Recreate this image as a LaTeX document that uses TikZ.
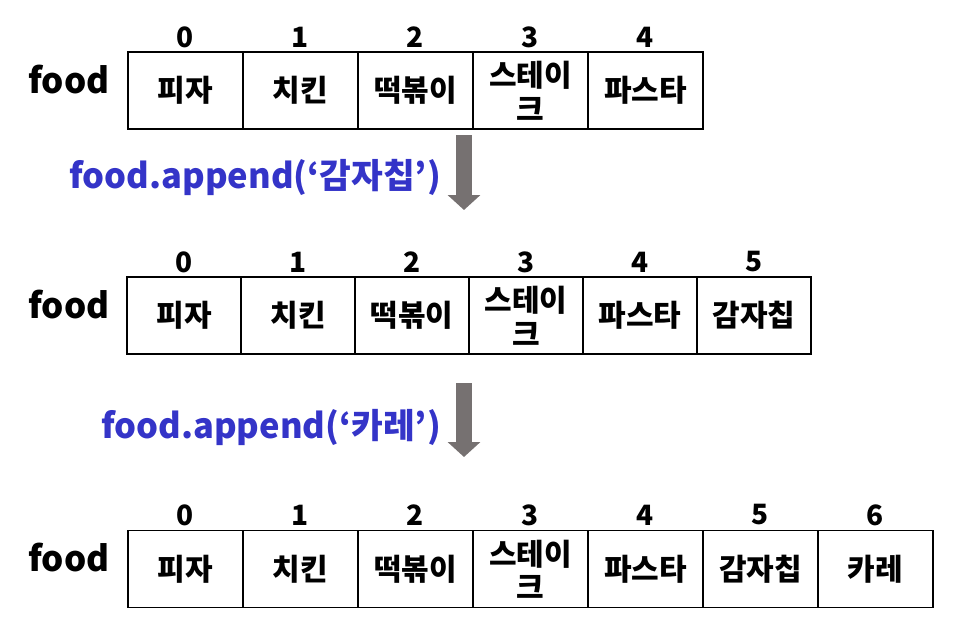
\documentclass[tikz,border=0pt]{standalone}
\usepackage{fontspec}
\setmainfont{Noto Sans CJK KR}[BoldFont={Noto Sans CJK KR Black}]
\usetikzlibrary{arrows.meta}
\definecolor{arrowgray}{HTML}{767171}
\definecolor{codeblue}{HTML}{3434C8}
\newcommand{\steak}{\raisebox{-5pt}[\height][\depth]{\begin{tabular}{@{}c@{}}스테이\\[1pt]크\end{tabular}}}
\begin{document}
\begin{tikzpicture}[x=1pt,y=-1pt,
  cell/.style={draw=black,line width=1.3pt,minimum width=115pt,minimum height=77pt,inner sep=0pt,
    font=\fontsize{30}{32}\selectfont\bfseries,align=center},
  idx/.style={font=\fontsize{28}{30}\selectfont\bfseries,inner sep=0pt},
  lbl/.style={font=\fontsize{35}{36}\selectfont\bfseries,inner sep=0pt},
  code/.style={font=\fontsize{34.5}{36}\selectfont\bfseries,text=codeblue,inner sep=0pt,anchor=east},
  bigarrow/.style={draw=arrowgray,line width=16pt,-{Triangle[width=32pt,length=15pt,fill=arrowgray]}}]
\useasboundingbox (0,0) rectangle (958,626);
% row 1
\node[lbl] (f1) at (69,80) {food};
\foreach \i/\t in {0/피자,1/치킨,2/떡볶이,3/\steak,4/파스타}{
  \node[cell] (a\i) at (185.5+115*\i,90.5) {\t};
  \node[idx] (ai\i) at (185.5+115*\i,37) {\i};
}
% arrow 1
\coordinate (s1) at (464,135);
\coordinate (e1) at (464,210);
\draw[bigarrow] (s1) -- (e1);
\node[code] (c1) at (441,177) {food.append(‘감자칩’)};
% row 2
\node[lbl] (f2) at (69,305) {food};
\foreach \i/\t in {0/피자,1/치킨,2/떡볶이,3/\steak,4/파스타,5/감자칩}{
  \node[cell,minimum width=114pt] (b\i) at (184+114*\i,315.5) {\t};
  \node[idx] (bi\i) at (184+114*\i,262) {\i};
}
% arrow 2
\coordinate (s2) at (464,383);
\coordinate (e2) at (464,457);
\draw[bigarrow] (s2) -- (e2);
\node[code] (c2) at (441,427) {food.append(‘카레’)};
% row 3
\node[lbl] (f3) at (69,558) {food};
\foreach \i/\t in {0/피자,1/치킨,2/떡볶이,3/\steak,4/파스타,5/감자칩,6/카레}{
  \node[cell] (d\i) at (185.5+115*\i,569) {\t};
  \node[idx] (di\i) at (185.5+115*\i,515) {\i};
}
\end{tikzpicture}
\end{document}
